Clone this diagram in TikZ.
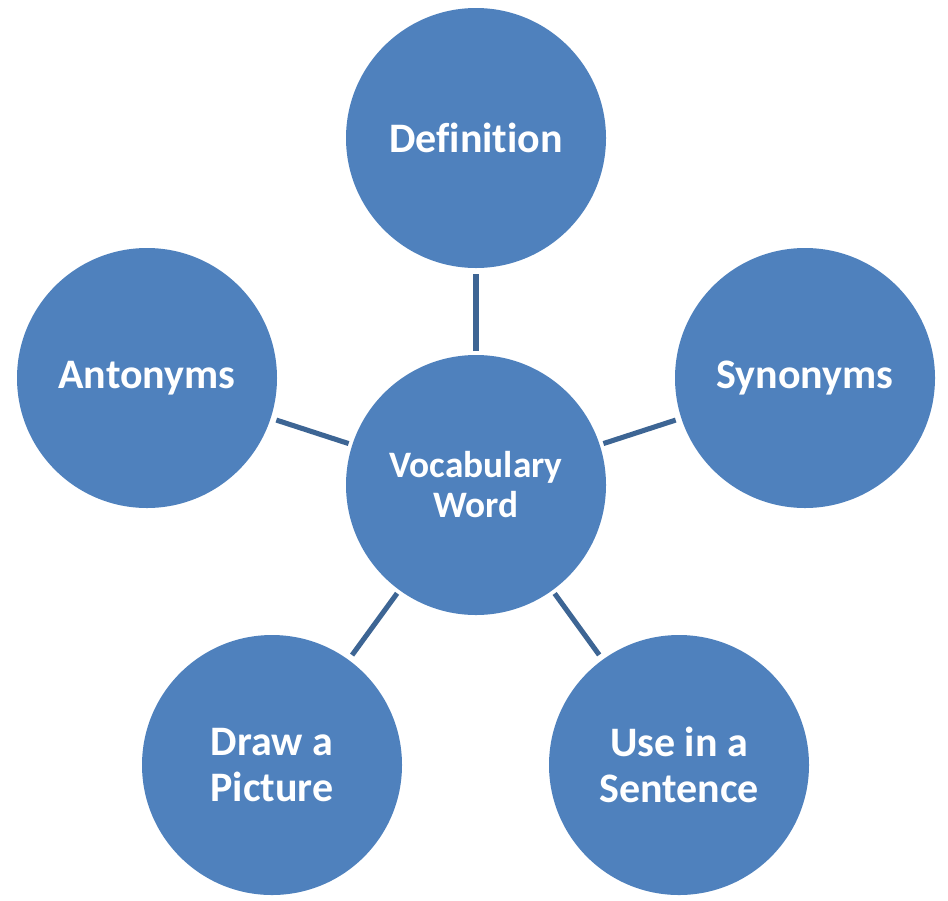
\documentclass[tikz,border=0pt]{standalone}
\usepackage{fontspec}
\setmainfont{Carlito}[Ligatures=NoCommon]
\definecolor{bub}{HTML}{4F81BD}
\definecolor{lnk}{HTML}{3D6594}
\begin{document}
\begin{tikzpicture}[x=0.75pt,y=-0.75pt,
  bubble/.style={circle,fill=bub,minimum size=195pt,inner sep=0pt,outer sep=0pt,
    text=white,font=\bfseries\fontsize{31.5}{34}\selectfont,align=center},
  hub/.style={bubble,font=\bfseries\fontsize{28}{30}\selectfont},
  link/.style={draw=lnk,line width=3.8pt,shorten <=3pt,shorten >=4.5pt}]
\useasboundingbox (0,0) rectangle (948,900);
\node[hub] (c) at (476,485) {Vocabulary\\Word};
\node[bubble] (d) at (476,138) {Definition};
\node[bubble] (s) at (805,378) {Synonyms};
\node[bubble] (a) at (147,378) {Antonyms};
\node[bubble] (p) at (272,765) {Draw a\\Picture};
\node[bubble] (u) at (679,765) {Use in a\\Sentence};
\draw[link] (c) -- (d);
\draw[link] (c) -- (s);
\draw[link] (c) -- (a);
\draw[link] (c) -- (p);
\draw[link] (c) -- (u);
\end{tikzpicture}
\end{document}
